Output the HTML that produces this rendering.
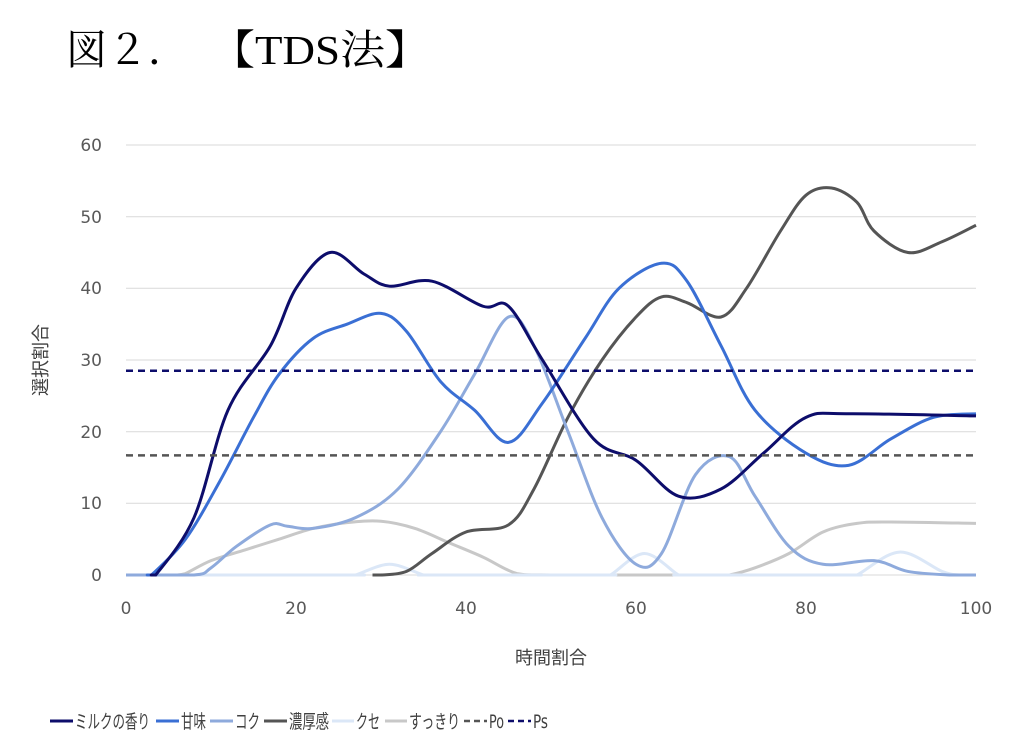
<!DOCTYPE html>
<html><head><meta charset="utf-8"><style>
body{margin:0;background:#fff;width:1022px;height:753px;overflow:hidden;font-family:"DejaVu Sans","Noto Sans CJK JP",sans-serif;}
</style></head><body>
<svg id="s" width="1022" height="753" xmlns="http://www.w3.org/2000/svg" style="position:absolute;left:0;top:0">
<text x="66" y="64" font-family="'Liberation Serif','Noto Serif CJK SC',serif" font-size="41" fill="#000">図２．</text>
<text x="210" y="64" font-family="'Liberation Serif','Noto Serif CJK SC',serif" font-size="41" fill="#000" textLength="220" lengthAdjust="spacingAndGlyphs">【TDS法】</text>
<g stroke="#d9d9d9" stroke-width="1">
<line x1="126" x2="976" y1="145" y2="145"/><line x1="126" x2="976" y1="216.7" y2="216.7"/>
<line x1="126" x2="976" y1="288.3" y2="288.3"/><line x1="126" x2="976" y1="360" y2="360"/>
<line x1="126" x2="976" y1="431.7" y2="431.7"/><line x1="126" x2="976" y1="503.3" y2="503.3"/>
<line x1="126" x2="976" y1="575" y2="575"/></g>
<g font-size="17" fill="#595959" text-anchor="end">
<text x="102" y="151">60</text><text x="102" y="223">50</text><text x="102" y="294">40</text>
<text x="102" y="366">30</text><text x="102" y="438">20</text><text x="102" y="509">10</text><text x="102" y="581">0</text></g>
<g font-size="17" fill="#595959" text-anchor="middle">
<text x="126" y="614">0</text><text x="296" y="614">20</text><text x="466" y="614">40</text>
<text x="636" y="614">60</text><text x="806" y="614">80</text><text x="976" y="614">100</text></g>
<text x="551" y="664" font-size="18" fill="#404040" text-anchor="middle">時間割合</text>
<text transform="translate(47,360) rotate(-90)" font-size="18" fill="#404040" text-anchor="middle">選択割合</text>
<g id="series"></g>
<g font-size="19" fill="#404040">
<line x1="50" x2="73" y1="721" y2="721" stroke="#0d0d6b" stroke-width="3"/><text x="75" y="728" textLength="75" lengthAdjust="spacingAndGlyphs">ミルクの香り</text>
<line x1="156" x2="179" y1="721" y2="721" stroke="#3a6fd4" stroke-width="3"/><text x="181" y="728" textLength="25" lengthAdjust="spacingAndGlyphs">甘味</text>
<line x1="210" x2="233" y1="721" y2="721" stroke="#8eaadc" stroke-width="3"/><text x="235" y="728" textLength="25" lengthAdjust="spacingAndGlyphs">コク</text>
<line x1="264" x2="287" y1="721" y2="721" stroke="#555" stroke-width="3"/><text x="289" y="728" textLength="40" lengthAdjust="spacingAndGlyphs">濃厚感</text>
<line x1="332" x2="354" y1="721" y2="721" stroke="#dbe7f7" stroke-width="3"/><text x="356" y="728" textLength="24" lengthAdjust="spacingAndGlyphs">クセ</text>
<line x1="385" x2="407" y1="721" y2="721" stroke="#c8c8c8" stroke-width="3"/><text x="409" y="728" textLength="51" lengthAdjust="spacingAndGlyphs">すっきり</text>
<line x1="464" x2="487" y1="721" y2="721" stroke="#555" stroke-width="2.5" stroke-dasharray="6,4"/><text x="489" y="728" textLength="15" lengthAdjust="spacingAndGlyphs">Po</text>
<line x1="508" x2="531" y1="721" y2="721" stroke="#0d0d6b" stroke-width="2.5" stroke-dasharray="6,4"/><text x="533" y="728" textLength="15" lengthAdjust="spacingAndGlyphs">Ps</text>
</g>
</svg>
<script>
function X(v){return 126+v*8.5}function Y(v){return Math.min(575,575-v*430/60)}
function path(pts){var p=pts.map(function(a){return [X(a[0]),575-a[1]*430/60]});var d="M"+p[0][0]+","+p[0][1];
for(var i=0;i<p.length-1;i++){var p0=p[i-1]||p[i],p1=p[i],p2=p[i+1],p3=p[i+2]||p2;
var c1=[p1[0]+(p2[0]-p0[0])/6,Math.min(575,p1[1]+(p2[1]-p0[1])/6)],c2=[p2[0]-(p3[0]-p1[0])/6,Math.min(575,p2[1]-(p3[1]-p1[1])/6)];
d+=" C"+c1+" "+c2+" "+p2;}return d;}
var S=[
["#c8c8c8",[[6,0],[7,0.2],[10,2],[14,3.5],[18,5],[22,6.5],[26,7.3],[30,7.5],[34,6.5],[38,4.5],[42,2.5],[46,0.2],[50,0],[70,0],[71,0],[74,1],[78,3],[82,6],[86,7.2],[90,7.4],[100,7.2]]],
["#dbe7f7",[[0,0],[26,0],[27,0],[31,1.5],[35,0],[36,0],[56,0],[57,0],[61,3],[65,0],[66,0],[85,0],[86,0],[91,3.2],[96,0.5],[98,0],[100,0]]],
["#555",[[29,0],[30,0],[33,0.5],[36,3],[40,6],[45,7],[48,12],[52,22],[56,30],[60,36],[63,38.8],[66,38],[70,36],[73,40],[77,48],[80,53],[83,54],[86,52],[88,48],[92,45],[96,46.5],[100,48.8]]],
["#8eaadc",[[0,0],[8,0],[10,1],[13,4],[17,7],[19,6.8],[22,6.5],[27,8],[32,12],[37,20],[41,28],[45,36],[48,32],[52,20],[56,8],[60,1.5],[63,3],[67,14],[71,16.5],[74,11],[78,4],[82,1.5],[88,2],[92,0.5],[97,0],[100,0]]],
["#3a6fd4",[[2.5,0],[3,0],[7,5],[11,13],[15,22],[18,28],[22,33],[26,35],[30,36.5],[33,34],[37,27],[41,23],[45,18.5],[49,24],[54,33],[58,40],[63,43.5],[66,41],[70,32],[74,23],[80,17],[85,15.3],[90,19],[95,22],[100,22.5]]],
["#0d0d6b",[[3,0],[3.5,0],[8,8],[12,23],[17,32],[20,40],[24,45],[28,42],[31,40.3],[36,41],[42,37.5],[45,37.5],[49,30],[55,19],[60,16],[65,11],[70,12],[75,17],[80,22],[85,22.5],[100,22.2]]]];
var h="";S.forEach(function(s){h+='<path d="'+path(s[1])+'" fill="none" stroke="'+s[0]+'" stroke-width="3"/>'});
h+='<line x1="126" x2="976" y1="'+Y(16.7)+'" y2="'+Y(16.7)+'" stroke="#555" stroke-width="2.5" stroke-dasharray="7,5"/>';
h+='<line x1="126" x2="976" y1="'+Y(28.5)+'" y2="'+Y(28.5)+'" stroke="#0d0d6b" stroke-width="2.5" stroke-dasharray="7,5"/>';
document.getElementById("series").innerHTML=h;
</script>
</body></html>
